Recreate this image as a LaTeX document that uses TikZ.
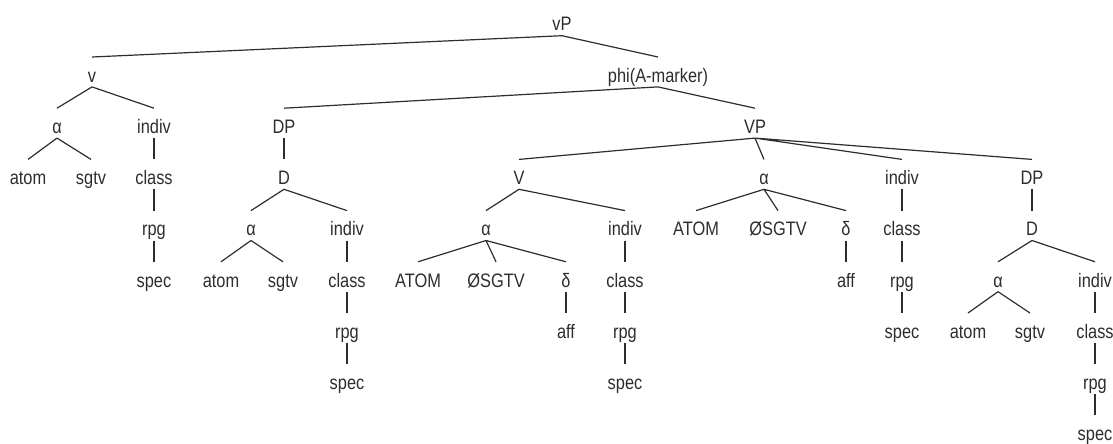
\documentclass[tikz,border=0pt]{standalone}
\usepackage{fontspec}
\setmainfont{Liberation Sans}[FakeStretch=0.84]
\usepackage{xcolor}
\usetikzlibrary{positioning}
\definecolor{treeink}{RGB}{45, 45, 45}
\tikzset{
  lab/.style={
    anchor=base,
    inner sep=0pt,
    text height=25pt,
    text depth=4.5pt,
    text=treeink,
    font=\fontsize{19.5}{22}\selectfont
  },
  branch/.style={
    draw=treeink,
    line width=1.2pt
  }
}
\begin{document}
\begin{tikzpicture}[x=1pt, y=-1pt]
  \useasboundingbox (0,0) rectangle (1113,444);
  % row 0 and 1
  \node[lab] (vP) at (562,31) {vP};
  \node[lab] (v) at (92,82.2) {v};
  \node[lab] (phi) at (658,82.2) {phi(A-marker)};
  % row 2
  \node[lab] (a1) at (57,133.4) {α};
  \node[lab] (ind1) at (154,133.4) {indiv};
  \node[lab] (dpL) at (284,133.4) {DP};
  \node[lab] (VP) at (755,133.4) {VP};
  % row 3
  \node[lab] (atom1) at (28,184.6) {atom};
  \node[lab] (sgtv1) at (91,184.6) {sgtv};
  \node[lab] (cls1) at (154,184.6) {class};
  \node[lab] (dL) at (284,184.6) {D};
  \node[lab] (V) at (519,184.6) {V};
  \node[lab] (a4) at (764,184.6) {α};
  \node[lab] (ind4) at (902,184.6) {indiv};
  \node[lab] (dpR) at (1032,184.6) {DP};
  % row 4
  \node[lab] (rpg1) at (154,235.8) {rpg};
  \node[lab] (a2) at (251,235.8) {α};
  \node[lab] (ind2) at (347,235.8) {indiv};
  \node[lab] (a3) at (486,235.8) {α};
  \node[lab] (ind3) at (625,235.8) {indiv};
  \node[lab] (atomU4) at (696,235.8) {ATOM};
  \node[lab] (sg4) at (778,235.8) {ØSGTV};
  \node[lab] (del4) at (846,235.8) {δ};
  \node[lab] (cls4) at (902,235.8) {class};
  \node[lab] (dR) at (1032,235.8) {D};
  % row 5
  \node[lab] (spec1) at (154,287) {spec};
  \node[lab] (atom2) at (221,287) {atom};
  \node[lab] (sgtv2) at (283,287) {sgtv};
  \node[lab] (cls2) at (347,287) {class};
  \node[lab] (atomU3) at (418,287) {ATOM};
  \node[lab] (sg3) at (496,287) {ØSGTV};
  \node[lab] (del3) at (566,287) {δ};
  \node[lab] (cls3) at (625,287) {class};
  \node[lab] (aff4) at (846,287) {aff};
  \node[lab] (rpg4) at (902,287) {rpg};
  \node[lab] (a5) at (998,287) {α};
  \node[lab] (ind5) at (1095,287) {indiv};
  % row 6
  \node[lab] (rpg2) at (347,338.2) {rpg};
  \node[lab] (aff3) at (566,338.2) {aff};
  \node[lab] (rpg3) at (625,338.2) {rpg};
  \node[lab] (spec4) at (902,338.2) {spec};
  \node[lab] (atom5) at (968,338.2) {atom};
  \node[lab] (sgtv5) at (1030,338.2) {sgtv};
  \node[lab] (cls5) at (1095,338.2) {class};
  % row 7 and 8
  \node[lab] (spec2) at (347,389.4) {spec};
  \node[lab] (spec3) at (625,389.4) {spec};
  \node[lab] (rpg5) at (1095,389.4) {rpg};
  \node[lab] (spec5) at (1095,440.6) {spec};

  % top
  \draw[branch] (vP.south) -- (v.north) (vP.south) -- (phi.north);
  % v branch
  \draw[branch] (v.south) -- (a1.north) (v.south) -- (ind1.north);
  \draw[branch] (a1.south) -- (atom1.north) (a1.south) -- (sgtv1.north);
  \draw[branch] (ind1.south) -- (cls1.north) (cls1.south) -- (rpg1.north) (rpg1.south) -- (spec1.north);
  % phi branch
  \draw[branch] (phi.south) -- (dpL.north) (phi.south) -- (VP.north);
  \draw[branch] (dpL.south) -- (dL.north);
  \draw[branch] (dL.south) -- (a2.north) (dL.south) -- (ind2.north);
  \draw[branch] (a2.south) -- (atom2.north) (a2.south) -- (sgtv2.north);
  \draw[branch] (ind2.south) -- (cls2.north) (cls2.south) -- (rpg2.north) (rpg2.south) -- (spec2.north);
  % VP branch
  \draw[branch] (VP.south) -- (V.north) (VP.south) -- (a4.north)
    (VP.south) -- (ind4.north) (VP.south) -- (dpR.north);
  \draw[branch] (V.south) -- (a3.north) (V.south) -- (ind3.north);
  \draw[branch] (a3.south) -- (atomU3.north) (a3.south) -- (sg3.north) (a3.south) -- (del3.north);
  \draw[branch] (del3.south) -- (aff3.north);
  \draw[branch] (ind3.south) -- (cls3.north) (cls3.south) -- (rpg3.north) (rpg3.south) -- (spec3.north);
  \draw[branch] (a4.south) -- (atomU4.north) (a4.south) -- (sg4.north) (a4.south) -- (del4.north);
  \draw[branch] (del4.south) -- (aff4.north);
  \draw[branch] (ind4.south) -- (cls4.north) (cls4.south) -- (rpg4.north) (rpg4.south) -- (spec4.north);
  \draw[branch] (dpR.south) -- (dR.north);
  \draw[branch] (dR.south) -- (a5.north) (dR.south) -- (ind5.north);
  \draw[branch] (a5.south) -- (atom5.north) (a5.south) -- (sgtv5.north);
  \draw[branch] (ind5.south) -- (cls5.north) (cls5.south) -- (rpg5.north) (rpg5.south) -- (spec5.north);
\end{tikzpicture}
\end{document}
